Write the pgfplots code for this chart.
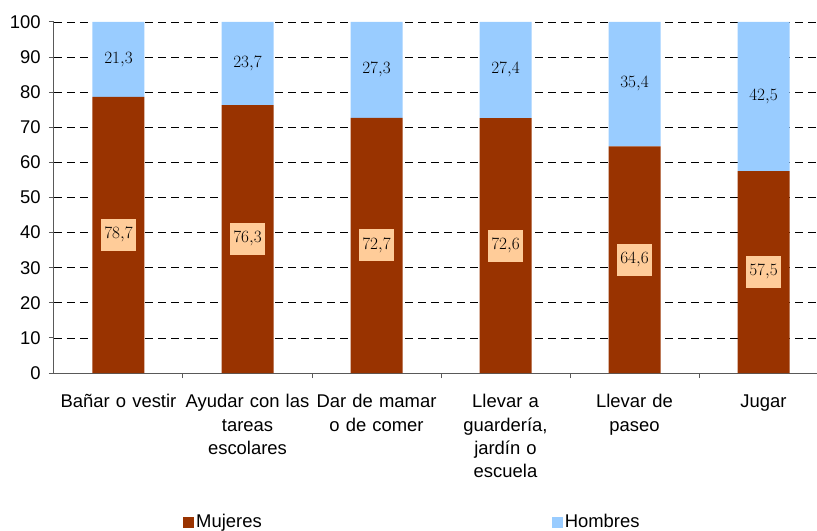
\documentclass[border=0pt]{standalone}
\usepackage{pgfplots}
\pgfplotsset{compat=1.18}
\usepackage{fontspec}
\setmainfont{Liberation Sans}
\definecolor{muj}{HTML}{993300}
\definecolor{hom}{HTML}{99CCFF}
\definecolor{lab}{HTML}{FFCC99}
\begin{document}
\fontsize{18.5}{23.5}\selectfont
\begin{tikzpicture}
\begin{axis}[
 at={(0,0)}, anchor=south west,
 scale only axis, width=774bp, height=351bp,
 ybar stacked, bar width=52bp,
 xmin=-0.5, xmax=5.5, ymin=0, ymax=100,
 ytick={0,10,...,100},
 xtick={0,...,5},
 xticklabels={Bañar o vestir, {Ayudar con las\\tareas\\escolares}, {Dar de mamar\\o de comer}, {Llevar a\\guardería,\\jardín o\\escuela}, {Llevar de\\paseo}, Jugar},
 xticklabel style={text width=135bp, align=center, anchor=north, yshift=-10bp, font=\fontsize{18.5}{23.5}\selectfont},
 yticklabel style={font=\fontsize{18.5}{20}\selectfont, xshift=-2bp},
 /pgf/number format/assume math mode=true,
 minor xtick={0.5,1.5,2.5,3.5,4.5},
 major x tick style={draw=none},
 tick align=outside, major tick length=5bp, minor tick length=5bp,
 tick style={gray!70!black, line width=1bp},
 axis lines*=left,
 axis line style={gray!70!black, line width=1bp},
 ymajorgrids, grid style={black, dash pattern=on 8bp off 5bp, line width=0.8bp},
 legend style={at={(axis description cs:0.1667,-0.425)}, anchor=west, draw=none, fill=none, legend columns=2, inner xsep=0pt, font=\fontsize{18.5}{20}\selectfont, /tikz/every even column/.append style={column sep=288bp}},
 legend cell align=left,
]
\addplot[fill=muj, draw=none,
  legend image code/.code={\fill[muj] (0bp,-5.5bp) rectangle (11bp,5.5bp);}]
 coordinates {(0,78.7) (1,76.3) (2,72.7) (3,72.6) (4,64.6) (5,57.5)};
\addlegendentry{Mujeres}
\addplot[fill=hom, draw=none,
  legend image code/.code={\fill[hom] (0bp,-5.5bp) rectangle (11bp,5.5bp);}]
 coordinates {(0,21.3) (1,23.7) (2,27.3) (3,27.4) (4,35.4) (5,42.5)};
\addlegendentry{Hombres}
\end{axis}
\begin{axis}[
 at={(0,0)}, anchor=south west,
 scale only axis, width=774bp, height=351bp,
 xmin=-0.5, xmax=5.5, ymin=0, ymax=100,
 hide axis,
 point meta=explicit,
 nodes near coords,
 every node near coord/.append style={/pgf/number format/fixed, /pgf/number format/fixed zerofill, /pgf/number format/precision=1, /pgf/number format/use comma, anchor=center, font=\fontsize{18.5}{20}\selectfont, text=black},
]
\addplot[only marks, mark=*, mark size=0pt, mark options={draw=none, fill=none},
  every node near coord/.append style={fill=lab, inner xsep=3bp, minimum height=32bp}]
 coordinates {(0,39.35) [78.7] (1,38.15) [76.3] (2,36.35) [72.7] (3,36.3) [72.6] (4,32.3) [64.6] (5,28.75) [57.5]};
\addplot[only marks, mark=*, mark size=0pt, mark options={draw=none, fill=none}]
 coordinates {(0,89.35) [21.3] (1,88.15) [23.7] (2,86.35) [27.3] (3,86.3) [27.4] (4,82.3) [35.4] (5,78.75) [42.5]};
\end{axis}
\pgfresetboundingbox
\useasboundingbox (-54bp,-158bp) rectangle (763bp,373bp);
\end{tikzpicture}
\end{document}
